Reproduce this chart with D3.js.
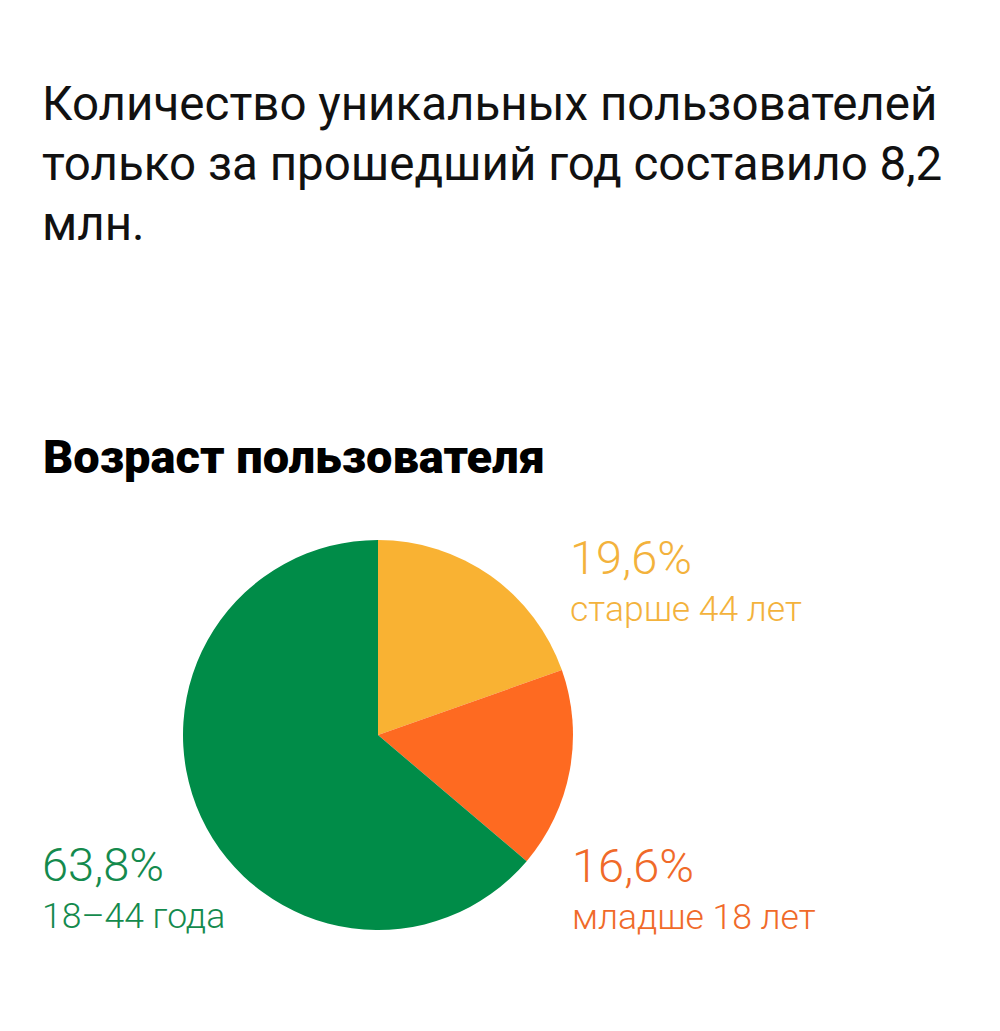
<!DOCTYPE html>
<html>
<head>
<meta charset="utf-8">
<script src="https://cdn.jsdelivr.net/npm/d3@7"></script>
<style>
  body { margin: 0; background: #fff; }
  svg { display: block; }
</style>
</head>
<body>
<div id="chart"></div>
<script>
// data
const titleLines = ["Количество уникальных пользователей", "только за прошедший год составило 8,2", "млн."]
const heading = "Возраст пользователя"
const categories = ["старше 44 лет", "младше 18 лет", "18–44 года"]
const shares = [19.6, 16.6, 63.8]
const shareLabels = ["19,6%", "16,6%", "63,8%"]
const sliceColors = ["#F9B233", "#FE6A21", "#008C48"]
const textColors = ["#F3B23C", "#F06A29", "#148A4D"]

const width = 1000
const height = 1031
const font = "Roboto, 'Noto Sans', sans-serif"

const svg = d3.select("#chart")
    .append("svg")
    .attr("width", width)
    .attr("height", height)

// title
svg.append("g")
    .selectAll("text")
    .data(titleLines)
    .enter()
    .append("text")
    .attr("x", 42)
    .attr("y", (d, i) => 120 + i * 60)
    .text(d => d)
    .attr("font-size", 47.5)
    .attr("font-family", font)
    .attr("fill", "#111")

svg.append("text")
    .attr("x", 43)
    .attr("y", 473)
    .text(heading)
    .attr("font-size", 47)
    .attr("font-weight", 900)
    .attr("font-family", font)
    .attr("fill", "#000")

// pie
const cx = 378, cy = 735, r = 195

const pie = d3.pie()
    .sort(null)
    .value(d => d)

const arc = d3.arc()
    .innerRadius(0)
    .outerRadius(r)

const arcs = pie(shares)

svg.append("g")
    .attr("transform", "translate(" + cx + "," + cy + ")")
    .selectAll("path")
    .data(arcs)
    .enter()
    .append("path")
    .attr("d", arc)
    .attr("fill", (d, i) => sliceColors[i])

// labels
const labelPos = [
    { x: 570, y: 574 },
    { x: 572, y: 882 },
    { x: 42, y: 881 }
]

const labels = svg.append("g")
    .selectAll("g")
    .data(categories)
    .enter()
    .append("g")
    .attr("transform", (d, i) => "translate(" + labelPos[i].x + "," + labelPos[i].y + ")")

labels.append("text")
    .text((d, i) => shareLabels[i])
    .attr("font-size", 47)
    .attr("font-weight", 300)
    .attr("font-family", font)
    .attr("fill", (d, i) => textColors[i])

labels.append("text")
    .attr("y", 47)
    .text(d => d)
    .attr("font-size", 35.5)
    .attr("font-weight", 300)
    .attr("font-family", font)
    .attr("fill", (d, i) => textColors[i])
</script>
</body>
</html>
